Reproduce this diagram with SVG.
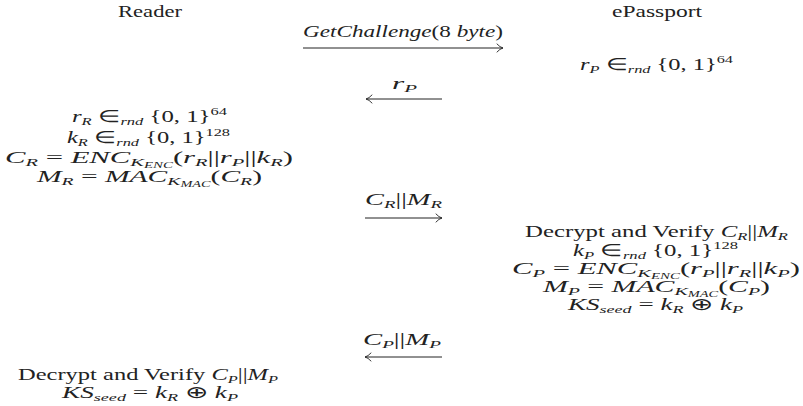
<svg xmlns="http://www.w3.org/2000/svg" width="803" height="406" viewBox="0 0 803 406">
  <style>
    .t { font-family: "Liberation Serif", "Times New Roman", serif; font-size: 16.5px; fill: #222; }
    .i { font-style: italic; }
    .s { font-size: 11px; }
    .ss { font-size: 8px; }
    .line { stroke: #222; stroke-width: 1; fill: none; }
    .head { stroke: #222; stroke-width: 0.9; fill: none; stroke-linecap: round; }
  </style>
  <rect width="803" height="406" fill="#fff"/>

  <!-- column headers -->
  <g id="reader">
    <text class="t" x="118" y="17" textLength="64" lengthAdjust="spacingAndGlyphs">Reader</text>
  </g>
  <g id="epassport">
    <text class="t" x="612" y="17" textLength="90" lengthAdjust="spacingAndGlyphs">ePassport</text>
  </g>

  <!-- ePassport: nonce generation -->
  <g id="passport-nonce">
    <text class="t" x="580" y="70" textLength="153" lengthAdjust="spacingAndGlyphs"><tspan class="i">r</tspan><tspan class="s i" dy="3">P</tspan><tspan dy="-3"> ∈</tspan><tspan class="s i" dy="3">rnd</tspan><tspan dy="-3"> {0, 1}</tspan><tspan class="s" dy="-7">64</tspan></text>
  </g>

  <!-- Reader: nonce, key, encryption and MAC -->
  <g id="reader-compute">
    <text class="t" x="72" y="122" textLength="155" lengthAdjust="spacingAndGlyphs"><tspan class="i">r</tspan><tspan class="s i" dy="3">R</tspan><tspan dy="-3"> ∈</tspan><tspan class="s i" dy="3">rnd</tspan><tspan dy="-3"> {0, 1}</tspan><tspan class="s" dy="-7">64</tspan></text>
    <text class="t" x="67" y="143" textLength="163" lengthAdjust="spacingAndGlyphs"><tspan class="i">k</tspan><tspan class="s i" dy="3">R</tspan><tspan dy="-3"> ∈</tspan><tspan class="s i" dy="3">rnd</tspan><tspan dy="-3"> {0, 1}</tspan><tspan class="s" dy="-7">128</tspan></text>
    <text class="t" x="5" y="163" textLength="288" lengthAdjust="spacingAndGlyphs"><tspan class="i">C</tspan><tspan class="s i" dy="3">R</tspan><tspan dy="-3"> = </tspan><tspan class="i">ENC</tspan><tspan class="s i" dy="3">K</tspan><tspan class="ss i" dy="2">ENC</tspan><tspan dy="-5">(</tspan><tspan class="i">r</tspan><tspan class="s i" dy="3">R</tspan><tspan dy="-3">||</tspan><tspan class="i">r</tspan><tspan class="s i" dy="3">P</tspan><tspan dy="-3">||</tspan><tspan class="i">k</tspan><tspan class="s i" dy="3">R</tspan><tspan dy="-3">)</tspan></text>
    <text class="t" x="37" y="182" textLength="225" lengthAdjust="spacingAndGlyphs"><tspan class="i">M</tspan><tspan class="s i" dy="3">R</tspan><tspan dy="-3"> = </tspan><tspan class="i">MAC</tspan><tspan class="s i" dy="3">K</tspan><tspan class="ss i" dy="2">MAC</tspan><tspan dy="-5">(</tspan><tspan class="i">C</tspan><tspan class="s i" dy="3">R</tspan><tspan dy="-3">)</tspan></text>
  </g>

  <!-- ePassport: verification, key, encryption, MAC and seed -->
  <g id="passport-compute">
    <text class="t" x="525" y="237" textLength="263" lengthAdjust="spacingAndGlyphs">Decrypt and Verify <tspan class="i">C</tspan><tspan class="s i" dy="3">R</tspan><tspan dy="-3">||</tspan><tspan class="i">M</tspan><tspan class="s i" dy="3">R</tspan></text>
    <text class="t" x="573" y="256" textLength="165" lengthAdjust="spacingAndGlyphs"><tspan class="i">k</tspan><tspan class="s i" dy="3">P</tspan><tspan dy="-3"> ∈</tspan><tspan class="s i" dy="3">rnd</tspan><tspan dy="-3"> {0, 1}</tspan><tspan class="s" dy="-7">128</tspan></text>
    <text class="t" x="512" y="274" textLength="288" lengthAdjust="spacingAndGlyphs"><tspan class="i">C</tspan><tspan class="s i" dy="3">P</tspan><tspan dy="-3"> = </tspan><tspan class="i">ENC</tspan><tspan class="s i" dy="3">K</tspan><tspan class="ss i" dy="2">ENC</tspan><tspan dy="-5">(</tspan><tspan class="i">r</tspan><tspan class="s i" dy="3">P</tspan><tspan dy="-3">||</tspan><tspan class="i">r</tspan><tspan class="s i" dy="3">R</tspan><tspan dy="-3">||</tspan><tspan class="i">k</tspan><tspan class="s i" dy="3">P</tspan><tspan dy="-3">)</tspan></text>
    <text class="t" x="543" y="292" textLength="227" lengthAdjust="spacingAndGlyphs"><tspan class="i">M</tspan><tspan class="s i" dy="3">P</tspan><tspan dy="-3"> = </tspan><tspan class="i">MAC</tspan><tspan class="s i" dy="3">K</tspan><tspan class="ss i" dy="2">MAC</tspan><tspan dy="-5">(</tspan><tspan class="i">C</tspan><tspan class="s i" dy="3">P</tspan><tspan dy="-3">)</tspan></text>
    <text class="t" x="568" y="310" textLength="175" lengthAdjust="spacingAndGlyphs"><tspan class="i">KS</tspan><tspan class="s i" dy="3">seed</tspan><tspan dy="-3"> = </tspan><tspan class="i">k</tspan><tspan class="s i" dy="3">R</tspan><tspan dy="-3"> ⊕ </tspan><tspan class="i">k</tspan><tspan class="s i" dy="3">P</tspan></text>
  </g>

  <!-- Reader: verification and seed -->
  <g id="reader-final">
    <text class="t" x="18" y="380" textLength="260" lengthAdjust="spacingAndGlyphs">Decrypt and Verify <tspan class="i">C</tspan><tspan class="s i" dy="3">P</tspan><tspan dy="-3">||</tspan><tspan class="i">M</tspan><tspan class="s i" dy="3">P</tspan></text>
    <text class="t" x="62" y="398" textLength="176" lengthAdjust="spacingAndGlyphs"><tspan class="i">KS</tspan><tspan class="s i" dy="3">seed</tspan><tspan dy="-3"> = </tspan><tspan class="i">k</tspan><tspan class="s i" dy="3">R</tspan><tspan dy="-3"> ⊕ </tspan><tspan class="i">k</tspan><tspan class="s i" dy="3">P</tspan></text>
  </g>

  <!-- messages exchanged between the two parties -->
  <g id="connectors">
    <!-- GetChallenge -->
    <text class="t" x="303" y="37" textLength="200" lengthAdjust="spacingAndGlyphs"><tspan class="i">GetChallenge</tspan>(8 <tspan class="i">byte</tspan>)</text>
    <path class="line" d="M303 48 H503"/>
    <path class="head" d="M497 44 Q500 47.3 503 48 Q500 48.7 497 52"/>

    <!-- r_P -->
    <text class="t" x="392" y="89" textLength="25" lengthAdjust="spacingAndGlyphs"><tspan class="i">r</tspan><tspan class="s i" dy="3">P</tspan></text>
    <path class="line" d="M442 99 H366"/>
    <path class="head" d="M372 95 Q369 98.3 366 99 Q369 99.7 372 103"/>

    <!-- C_R || M_R -->
    <text class="t" x="365" y="205" textLength="77" lengthAdjust="spacingAndGlyphs"><tspan class="i">C</tspan><tspan class="s i" dy="3">R</tspan><tspan dy="-3">||</tspan><tspan class="i">M</tspan><tspan class="s i" dy="3">R</tspan></text>
    <path class="line" d="M365 218 H442"/>
    <path class="head" d="M436 214 Q439 217.3 442 218 Q439 218.7 436 222"/>

    <!-- C_P || M_P -->
    <text class="t" x="363" y="345" textLength="78" lengthAdjust="spacingAndGlyphs"><tspan class="i">C</tspan><tspan class="s i" dy="3">P</tspan><tspan dy="-3">||</tspan><tspan class="i">M</tspan><tspan class="s i" dy="3">P</tspan></text>
    <path class="line" d="M442 357 H365"/>
    <path class="head" d="M371 353 Q368 356.3 365 357 Q368 357.7 371 361"/>
  </g>
</svg>
